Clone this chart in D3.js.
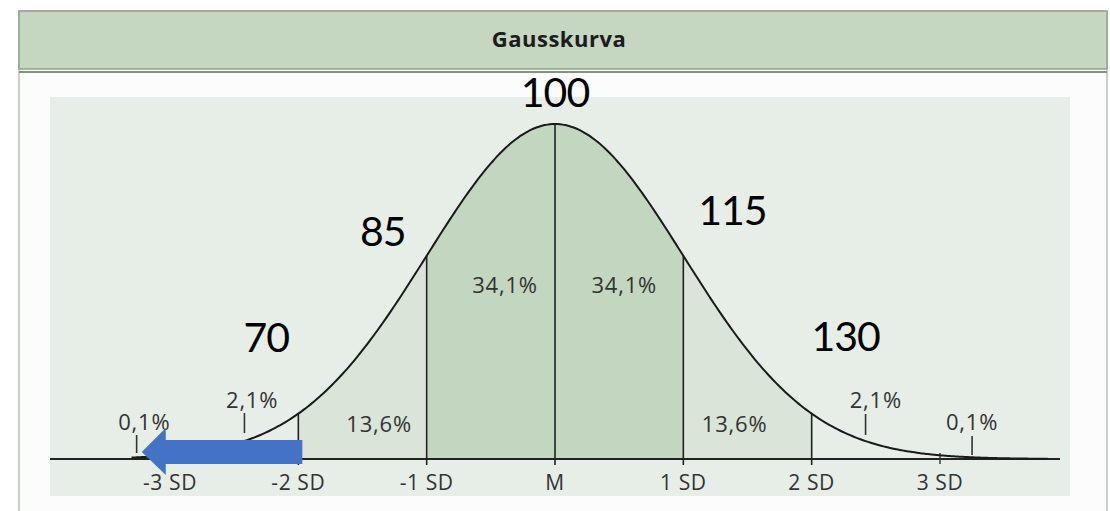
<!DOCTYPE html>
<html>
<head>
<meta charset="utf-8">
<script src="https://cdn.jsdelivr.net/npm/d3@7"></script>
<style>
  body { margin: 0; background: #ffffff; }
  svg { display: block; }
</style>
</head>
<body>
<div id="chart"></div>
<script>
// data
const sdPositions = [-3, -2, -1, 0, 1, 2, 3];
const sdLabels = ["-3 SD", "-2 SD", "-1 SD", "M", "1 SD", "2 SD", "3 SD"];
const iqPositions = [-2, -1, 0, 1, 2];
const iqValues = [70, 85, 100, 115, 130];
const bandEdges = [-4, -3, -2, -1, 0, 1, 2, 3, 4];
const bandShares = ["0,1%", "2,1%", "13,6%", "34,1%", "34,1%", "13,6%", "2,1%", "0,1%"];

const width = 1110, height = 511;

const svg = d3.select("#chart")
    .append("svg")
    .attr("width", width)
    .attr("height", height);

// outer panel + header
svg.append("rect")
    .attr("x", 19).attr("y", 11).attr("width", 1088).attr("height", 520)
    .attr("fill", "#fbfcfb").attr("stroke", "#b9c2b8").attr("stroke-width", 1.5);
svg.append("rect")
    .attr("x", 19).attr("y", 11).attr("width", 1088).attr("height", 58)
    .attr("fill", "#c5d6c1").attr("stroke", "#8fa58b").attr("stroke-width", 1.5);
svg.append("line")
    .attr("x1", 19).attr("x2", 1107).attr("y1", 72).attr("y2", 72)
    .attr("stroke", "#7f957c").attr("stroke-width", 2);
svg.append("text")
    .attr("x", 559).attr("y", 47)
    .attr("text-anchor", "middle")
    .style("font-family", "'Open Sans', sans-serif")
    .style("font-weight", 700)
    .style("font-size", "22px")
    .style("letter-spacing", "0.5px")
    .attr("fill", "#1c1c1c")
    .text("Gausskurva");

// plot area
svg.append("rect")
    .attr("x", 50).attr("y", 97).attr("width", 1020).attr("height", 399)
    .attr("fill", "#e7eee8");

const x = d3.scaleLinear().domain([-3, 3]).range([170, 940]);
const y = d3.scaleLinear().domain([0, 1]).range([459, 124]);
const dens = z => Math.exp(-z * z / 2);

const samples = d3.range(-3.3, 3.85, 0.02);

const area = d3.area()
    .x(z => x(z))
    .y0(y(0))
    .y1(z => y(dens(z)));

const bandFill = z => (Math.abs(z) < 1 ? "#c3d7c0" : Math.abs(z) < 2 ? "#dae4d8" : "none");

// shaded bands under curve
for (let i = 2; i < 6; i++) {
    const a = bandEdges[i], b = bandEdges[i + 1];
    const pts = d3.range(a, b + 0.001, 0.01);
    svg.append("path")
        .attr("d", area(pts))
        .attr("fill", bandFill((a + b) / 2));
}

// baseline
svg.append("line")
    .attr("x1", 50).attr("x2", 1060)
    .attr("y1", y(0)).attr("y2", y(0))
    .attr("stroke", "#222").attr("stroke-width", 2);

// vertical SD lines from baseline to curve
svg.selectAll("line.sd")
    .data(sdPositions.filter(d => Math.abs(d) <= 2))
    .enter().append("line")
    .attr("class", "sd")
    .attr("x1", d => x(d)).attr("x2", d => x(d))
    .attr("y1", y(0) + 6)
    .attr("y2", d => y(dens(d)))
    .attr("stroke", "#222").attr("stroke-width", 1.6);

// small ticks at +-3 SD
svg.selectAll("line.sd3")
    .data(sdPositions.filter(d => Math.abs(d) === 3))
    .enter().append("line")
    .attr("x1", d => x(d)).attr("x2", d => x(d))
    .attr("y1", y(0) - 6).attr("y2", y(0) + 5)
    .attr("stroke", "#333").attr("stroke-width", 1.4);

// curve
const line = d3.line().x(z => x(z)).y(z => y(dens(z))).curve(d3.curveBasis);
svg.append("path")
    .attr("d", line(samples))
    .attr("fill", "none")
    .attr("stroke", "#1a1a1a")
    .attr("stroke-width", 2);

// SD axis labels
svg.selectAll("text.sdl")
    .data(sdPositions)
    .enter().append("text")
    .attr("x", d => x(d))
    .attr("y", 490)
    .attr("text-anchor", "middle")
    .style("font-family", "'Open Sans', sans-serif")
    .style("font-size", "21px")
    .style("letter-spacing", "0.6px")
    .attr("fill", "#333")
    .text((d, i) => sdLabels[i]);

// band share labels (layout: label centre in SD units, baseline y)
const shareLayout = [
    { z: -3.2, ty: 430, tick: [-3.26, 435, 453] },
    { z: -2.36, ty: 408, tick: [-2.42, 413, 433] },
    { z: -1.37, ty: 432 },
    { z: -0.39, ty: 293 },
    { z: 0.54, ty: 293 },
    { z: 1.4, ty: 432 },
    { z: 2.5, ty: 408, tick: [2.42, 414, 435] },
    { z: 3.25, ty: 430, tick: [3.25, 436, 455] }
];

svg.selectAll("text.share")
    .data(bandShares)
    .enter().append("text")
    .attr("x", (d, i) => x(shareLayout[i].z))
    .attr("y", (d, i) => shareLayout[i].ty)
    .attr("text-anchor", "middle")
    .style("font-family", "'Open Sans', sans-serif")
    .style("font-size", "22px")
    .style("letter-spacing", "0.8px")
    .attr("fill", "#333")
    .text(d => d);

svg.selectAll("line.sharetick")
    .data(shareLayout.filter(d => d.tick))
    .enter().append("line")
    .attr("x1", d => x(d.tick[0])).attr("x2", d => x(d.tick[0]))
    .attr("y1", d => d.tick[1]).attr("y2", d => d.tick[2])
    .attr("stroke", "#333").attr("stroke-width", 1.6);

// IQ value labels (layout offsets from the SD point on the curve)
const iqLayout = [[-32, 352], [-44, 246], [0, 107], [49, 225], [34, 351]];
svg.selectAll("text.iq")
    .data(iqValues)
    .enter().append("text")
    .attr("x", (d, i) => x(iqPositions[i]) + iqLayout[i][0])
    .attr("y", (d, i) => iqLayout[i][1])
    .attr("text-anchor", "middle")
    .style("font-family", "Lato, sans-serif")
    .style("font-size", "41px")
    .style("letter-spacing", "-1px")
    .attr("fill", "#000")
    .text(d => d);

// blue arrow pointing left
const ax0 = x(-2) + 4, ax1 = x(-3.22), ay = 452;
svg.append("path")
    .attr("d", `M${ax1},${ay} L${ax1 + 24},${ay - 24} L${ax1 + 24},${ay - 12} L${ax0},${ay - 12} L${ax0},${ay + 12} L${ax1 + 24},${ay + 12} L${ax1 + 24},${ay + 23} Z`)
    .attr("fill", "#4472c4");
</script>
</body>
</html>
